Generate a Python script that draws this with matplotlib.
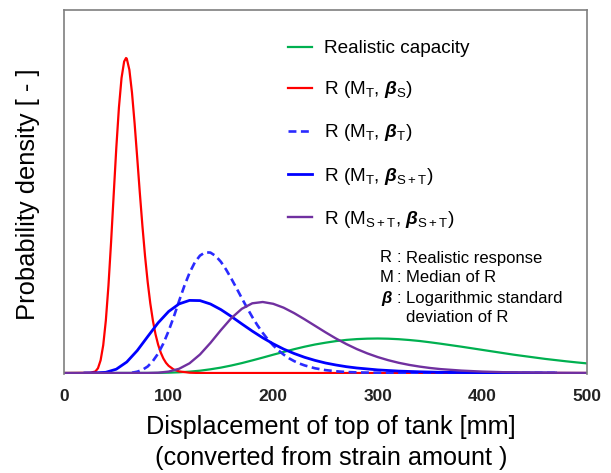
import matplotlib
matplotlib.use("Agg")
import matplotlib.pyplot as plt

plt.rcParams['font.family'] = ['Liberation Sans', 'DejaVu Sans']
plt.rcParams['mathtext.fontset'] = 'custom'
plt.rcParams['mathtext.rm'] = 'Liberation Sans'
plt.rcParams['mathtext.it'] = 'Liberation Sans:italic'
plt.rcParams['mathtext.bf'] = 'Liberation Sans:bold'
try:
    plt.rcParams['mathtext.bfit'] = 'Liberation Sans:bold:italic'
except KeyError:
    pass

# ---- data (relative probability density) ----
x_red = [0, 25, 30, 32.5, 35, 37.5, 40, 42.5, 45, 47.5, 50, 52.5, 55, 57.5, 59.3, 60,
         62.5, 65, 67.5, 70, 72.5, 75, 77.5, 80, 82.5, 85, 87.5, 90, 92.5, 95, 97.5,
         100, 105, 110, 120, 130, 500]
y_red = [0, 0.2, 1.5, 4.8, 12.7, 27.8, 52.5, 87.4, 130.7, 178.3, 225.1, 265.4, 295.0,
         311.5, 315.0, 314.4, 303.2, 280.3, 249.7, 215.2, 180.0, 146.7, 116.7, 91.0,
         69.6, 52.3, 38.7, 28.3, 20.4, 14.5, 10.2, 7.2, 3.4, 1.6, 0.3, 0, 0]

x_blue = [20, 30, 40, 50, 60, 70, 80, 90, 100, 110, 120, 130, 140, 150, 160, 170, 180,
          190, 200, 210, 220, 230, 240, 250, 260, 270, 280, 300, 320, 340, 360, 380,
          400, 450, 470]
y_blue = [0, 0.1, 0.7, 3.8, 11.0, 22.4, 36.4, 50.2, 61.5, 69.1, 72.6, 72.4, 69.0, 63.4,
          56.5, 49.1, 41.9, 35.2, 29.2, 23.9, 19.5, 15.7, 12.6, 10.0, 8.0, 6.3, 5.0,
          3.1, 1.9, 1.2, 0.7, 0.5, 0.3, 0.1, 0]

x_dash = [65, 70, 75, 80, 85, 90, 95, 100, 105, 110, 115, 120, 125, 130, 135, 140, 145,
          150, 155, 160, 165, 170, 175, 180, 185, 190, 195, 200, 205, 210, 215, 220,
          225, 230, 240, 250, 260, 270, 280, 300, 320, 470]
y_dash = [0.3, 1.3, 3.2, 6.5, 12.0, 19.5, 29.5, 42.0, 56.3, 71.9, 86.9, 100.1, 110.5,
          117.4, 120.7, 120.4, 117.0, 111.2, 103.4, 94.3, 84.7, 74.8, 65.2, 56.0, 47.6,
          40.1, 33.4, 27.6, 22.6, 18.4, 14.8, 11.9, 9.5, 7.6, 4.7, 2.9, 1.7, 1.0, 0.6,
          0.2, 0, 0]

x_purple = [0, 80, 90, 100, 110, 120, 130, 140, 150, 160, 170, 180, 190, 200, 210, 220,
            230, 240, 250, 260, 270, 280, 290, 300, 310, 320, 330, 340, 350, 360, 380,
            400, 420, 440, 460, 480, 500]
y_purple = [0, 0.05, 0.3, 1.4, 4.2, 9.7, 18.5, 30.1, 42.9, 54.9, 64.2, 69.7, 71.0, 69.2,
            65.3, 59.9, 53.7, 47.2, 40.7, 34.5, 28.9, 23.9, 19.6, 15.9, 12.8, 10.2, 8.1,
            6.4, 5.0, 3.9, 2.4, 1.4, 0.8, 0.5, 0.3, 0.2, 0.1]

x_green = [0, 80, 90, 100, 110, 120, 130, 140, 150, 160, 170, 180, 190, 200, 210, 220,
           230, 240, 250, 260, 270, 280, 290, 300, 310, 320, 330, 340, 350, 360, 370,
           380, 390, 400, 410, 420, 430, 440, 450, 460, 470, 480, 490, 500]
y_green = [0, 0.04, 0.13, 0.33, 0.7, 1.35, 2.3, 3.7, 5.4, 7.5, 9.9, 12.6, 15.4, 18.3,
           21.1, 23.8, 26.3, 28.5, 30.3, 31.9, 33.1, 33.9, 34.35, 34.5, 34.3, 33.8, 33.0,
           32.0, 30.7, 29.3, 27.8, 26.3, 24.7, 23.1, 21.5, 19.9, 18.3, 16.9, 15.5, 14.1,
           12.9, 11.7, 10.6, 9.6]

x_ticks = [0, 100, 200, 300, 400, 500]
tick_labels = ['0', '100', '200', '300', '400', '500']

labels = ['Realistic capacity',
          r'R (M$_{\mathrm{T}}$, $\boldsymbol{\beta}_{\mathrm{S}}$)',
          r'R (M$_{\mathrm{T}}$, $\boldsymbol{\beta}_{\mathrm{T}}$)',
          r'R (M$_{\mathrm{T}}$, $\boldsymbol{\beta}_{\mathrm{S+T}}$)',
          r'R (M$_{\mathrm{S+T}}$, $\boldsymbol{\beta}_{\mathrm{S+T}}$)']

GREEN = '#00B050'
RED = '#FF0000'
BLUE = '#0000FF'
DBLUE = '#2A2AFF'
PURPLE = '#7030A0'

W, H = 611, 473
fig = plt.figure(figsize=(W / 100, H / 100), dpi=100)
left, right, top, bottom = 64, 587, 10, 374
ax = fig.add_axes([left / W, 1 - bottom / H, (right - left) / W, (bottom - top) / H])

lg, = ax.plot(x_green, y_green, color=GREEN, lw=1.6, label=labels[0])
lr, = ax.plot(x_red, y_red, color=RED, lw=1.6, label=labels[1])
ld, = ax.plot(x_dash, y_dash, color=DBLUE, lw=1.9, dashes=(3, 1.7), label=labels[2])
lb, = ax.plot(x_blue, y_blue, color=BLUE, lw=2.0, label=labels[3])
lp, = ax.plot(x_purple, y_purple, color=PURPLE, lw=1.7, label=labels[4])

ax.set_xlim(0, 500)
ax.set_ylim(-1, 363)
ax.set_xticks(x_ticks)
ax.set_xticklabels(tick_labels, fontsize=12.5, fontweight='bold', color='#222222')
ax.tick_params(axis='x', length=0, pad=11)
ax.set_yticks([])
for s in ['left', 'top', 'right']:
    ax.spines[s].set_color('#7f7f7f')
    ax.spines[s].set_linewidth(1.2)
ax.spines['bottom'].set_visible(False)

ax.legend(handles=[lg, lr, ld, lb, lp], loc='upper left',
          bbox_to_anchor=((288 - left) / (right - left), 1 - (40 - top) / (bottom - top)),
          frameon=False, fontsize=13.7, handlelength=1.25, handletextpad=0.65,
          labelspacing=1.16, borderaxespad=0, borderpad=0)

# explanatory note
note_fs = 12
fig.text(380 / W, 1 - 258 / H, 'R', fontsize=note_fs, va='center', ha='left')
fig.text(380 / W, 1 - 278 / H, 'M', fontsize=note_fs, va='center', ha='left')
fig.text(381 / W, 1 - 298 / H, r'$\boldsymbol{\beta}$', fontsize=note_fs, va='center', ha='left')
for yy in (258, 278, 298):
    fig.text(397 / W, 1 - yy / H, ':', fontsize=note_fs, va='center', ha='left')
fig.text(406 / W, 1 - 258 / H, 'Realistic response', fontsize=note_fs, va='center', ha='left')
fig.text(406 / W, 1 - 278 / H, 'Median of R', fontsize=note_fs, va='center', ha='left')
fig.text(406 / W, 1 - 298 / H, 'Logarithmic standard', fontsize=note_fs, va='center', ha='left')
fig.text(406 / W, 1 - 317 / H, 'deviation of R', fontsize=note_fs, va='center', ha='left')

# axis titles
fig.text(28 / W, 1 - 194 / H, 'Probability density [ - ]', fontsize=18.4,
         rotation=90, va='center', ha='center')
fig.text(331 / W, 1 - 427 / H, 'Displacement of top of tank [mm]', fontsize=18.2,
         va='center', ha='center')
fig.text(331 / W, 1 - 458 / H, '(converted from strain amount )', fontsize=18.2,
         va='center', ha='center')

fig.savefig('out.png', dpi=100)
